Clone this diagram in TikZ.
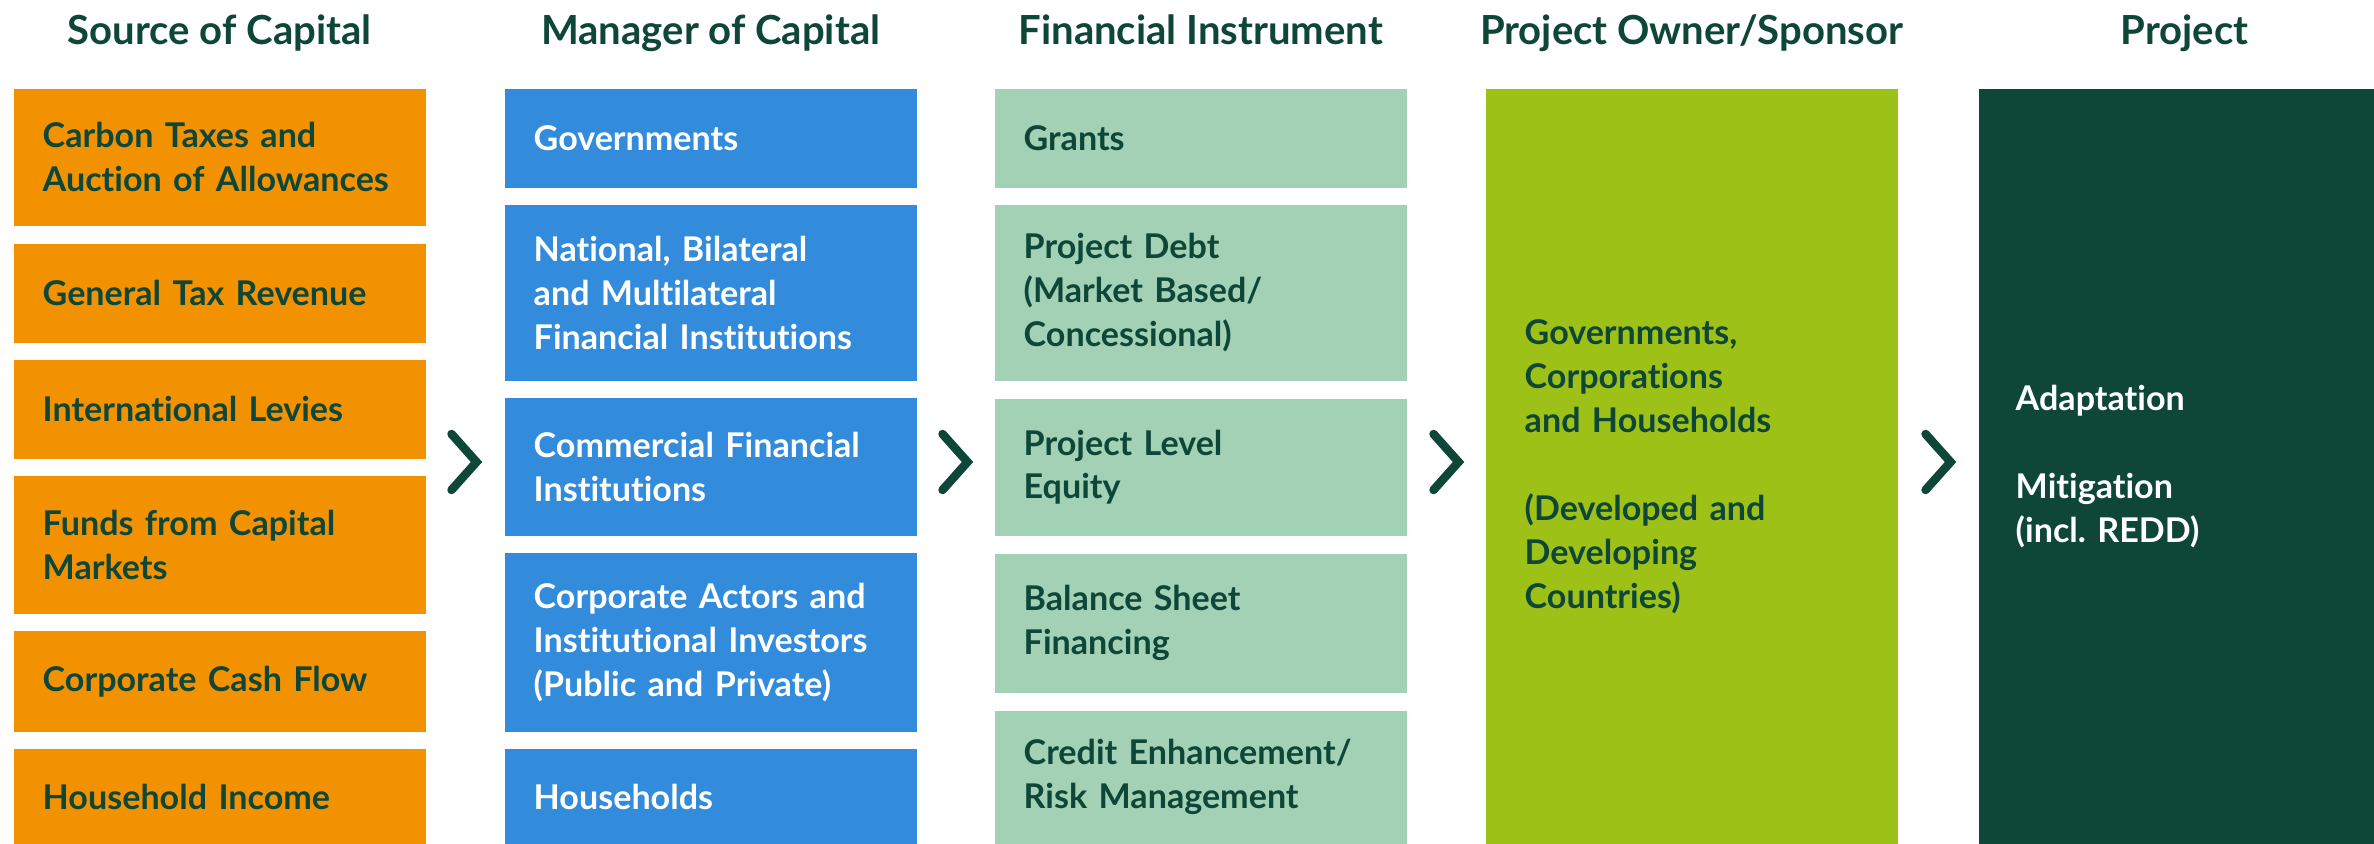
\documentclass[tikz,border=0pt]{standalone}
\usepackage{fontspec}
\setmainfont{Lato}[Ligatures={NoCommon}]
\usepackage{tikz}
\usetikzlibrary{positioning}

\definecolor{capOrange}{RGB}{242,146,0}
\definecolor{capBlue}{RGB}{50,139,219}
\definecolor{capMint}{RGB}{162,209,181}
\definecolor{capLime}{RGB}{158,193,24}
\definecolor{capDark}{RGB}{14,70,56}

\tikzset{
  colbox/.style={rectangle, anchor=north west, inner xsep=0.29cm, inner ysep=0pt,
    text width=3.54cm, align=left, font=\bfseries\fontsize{9.7}{12.5}\selectfont},
  srcbox/.style={colbox, fill=capOrange, text=capDark},
  mgrbox/.style={colbox, fill=capBlue, text=white},
  instbox/.style={colbox, fill=capMint, text=capDark},
  tallbox/.style={colbox, inner xsep=0.39cm, text width=3.34cm, minimum height=7.56cm},
  coltitle/.style={font=\bfseries\fontsize{11.4}{13}\selectfont, text=capDark},
  chev/.style={draw=capDark, line width=0.085cm, line cap=round}
}

\begin{document}
\begin{tikzpicture}
\useasboundingbox (0,0) rectangle (23.74,-8.44);

% Source of Capital
\node at (0.13,-0.88) [srcbox, name=src1, minimum height=1.37cm]{Carbon Taxes and\\\mbox{Auction of Allowances}};
\node at (0.13,-2.43) [srcbox, name=src2, minimum height=0.99cm]{General Tax Revenue};
\node at (0.13,-3.59) [srcbox, name=src3, minimum height=0.99cm]{International Levies};
\node at (0.13,-4.75) [srcbox, name=src4, minimum height=1.38cm]{Funds from Capital\\Markets};
\node at (0.13,-6.30) [srcbox, name=src5, minimum height=1.01cm]{Corporate Cash Flow};
\node at (0.13,-7.48) [srcbox, name=src6, minimum height=0.97cm]{Household Income};
\node [coltitle, above=0.43cm of src1, anchor=base]{Source of Capital};

% Manager of Capital
\node at (5.04,-0.88) [mgrbox, name=mgr1, minimum height=0.99cm]{Governments};
\node at (5.04,-2.04) [mgrbox, name=mgr2, minimum height=1.76cm]{National, Bilateral\\and Multilateral\\Financial Institutions};
\node at (5.04,-3.97) [mgrbox, name=mgr3, minimum height=1.38cm]{Commercial Financial\\Institutions};
\node at (5.04,-5.52) [mgrbox, name=mgr4, minimum height=1.79cm]{Corporate Actors and\\\mbox{Institutional Investors}\\(Public and Private)};
\node at (5.04,-7.48) [mgrbox, name=mgr5, minimum height=0.97cm]{Households};
\node [coltitle, above=0.43cm of mgr1, anchor=base]{Manager of Capital};

% Financial Instrument
\node at (9.94,-0.88) [instbox, name=inst1, minimum height=0.99cm]{Grants};
\node at (9.94,-2.04) [instbox, name=inst2, minimum height=1.76cm]{Project Debt\\(Market Based/\\Concessional)};
\node at (9.94,-3.98) [instbox, name=inst3, minimum height=1.37cm]{Project Level\\Equity};
\node at (9.94,-5.53) [instbox, name=inst4, minimum height=1.39cm]{Balance Sheet\\Financing};
\node at (9.94,-7.10) [instbox, name=inst5, minimum height=1.33cm]{Credit Enhancement/\\Risk Management};
\node [coltitle, above=0.43cm of inst1, anchor=base]{Financial Instrument};

% Project Owner/Sponsor
\node at (14.85,-0.88) [tallbox, name=owner, fill=capLime, text=capDark]{Governments,\\Corporations\\and Households\\[\baselineskip](Developed and\\Developing\\Countries)};
\node [coltitle, above=0.43cm of owner, anchor=base]{Project Owner/Sponsor};

% Project
\node at (19.78,-0.88) [tallbox, name=proj, fill=capDark, text=white, inner xsep=0.37cm, text width=3.38cm]{Adaptation\\[\baselineskip]Mitigation\\(incl.\ REDD)};
\node [coltitle, above=0.43cm of proj, anchor=base]{Project};

% chevrons between the columns
\foreach \cx in {4.64,9.55,14.46,19.38}
  \draw[chev] (\cx-0.125,-4.34) -- (\cx+0.125,-4.62) -- (\cx-0.125,-4.90);
\end{tikzpicture}
\end{document}
